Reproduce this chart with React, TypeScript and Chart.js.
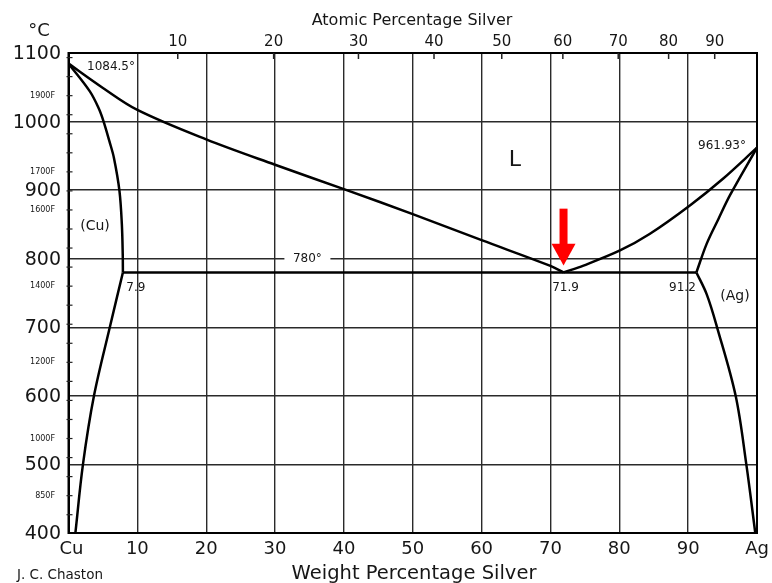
import React, { useEffect, useRef } from "react";
import { Chart, registerables } from "chart.js";

Chart.register(...registerables);

// Axis ticks
const weightTicks = [0, 10, 20, 30, 40, 50, 60, 70, 80, 90, 100];
const weightTickLabels = ["Cu", "10", "20", "30", "40", "50", "60", "70", "80", "90", "Ag"];
const tempTicks = [1100, 1000, 900, 800, 700, 600, 500, 400];
const atomicTicks = [10, 20, 30, 40, 50, 60, 70, 80, 90];
const fahrenheitLabels = [1900, 1700, 1600, 1400, 1200, 1000, 850];
const fahrenheitMinorTicks = [
  800, 850, 900, 950, 1000, 1050, 1100, 1150, 1200, 1250, 1300, 1350, 1400, 1450,
  1500, 1550, 1600, 1650, 1700, 1750, 1800, 1850, 1900, 1950, 2000,
];

// Molar masses used for atomic -> weight percent
const MASS_AG = 107.87;
const MASS_CU = 63.546;

// Curves (weight % Ag, temperature °C)
const cuLiquidusWt = [0, 5, 10, 20, 30, 40.4, 50, 60, 70, 71.9];
const cuLiquidusT = [1084.5, 1049, 1017, 974, 937, 900, 865, 827, 789.5, 780];

const agLiquidusWt = [71.9, 74.8, 80.1, 84.4, 90.3, 95.1, 100];
const agLiquidusT = [780, 790, 812, 836, 878, 917, 961.93];

const cuSolidusWt = [0, 3.1, 4.4, 5.1, 5.95, 6.6, 7.4, 7.75, 7.88, 7.9];
const cuSolidusT = [1084.5, 1044, 1019, 1000, 971, 947, 899, 850, 805, 780];

const cuSolvusWt = [1.0, 2.1, 3.7, 6.0, 7.9];
const cuSolvusT = [400, 500, 600, 700, 780];

const agSolidusWt = [91.2, 92.7, 94.4, 96.1, 100];
const agSolidusT = [780, 822, 858, 893, 961.93];

const agSolvusWt = [91.2, 92.7, 94.2, 96.9, 98.45, 99.75];
const agSolvusT = [780, 748, 700, 600, 500, 400];

const eutecticWt = [7.9, 71.9, 91.2];
const eutecticT = [780, 780, 780];

// Annotations
const eutecticLabel = { text: "780°", wt: 34.7, t: 800 };
const compositionLabels = [
  { text: "7.9", wt: 7.9 },
  { text: "71.9", wt: 71.9 },
  { text: "91.2", wt: 91.2 },
];
const arrowWt = 71.9;
const arrowTipT = 790;
const arrowTailT = 873;
const arrowHeadBaseT = 822;

const toPoints = (xs: number[], ys: number[]) => xs.map((x, i) => ({ x, y: ys[i] }));

const FONT = '"DejaVu Sans", "Liberation Sans", sans-serif';
const INK = "#161616";

const decorPlugin = {
  id: "decor",
  afterDraw(chart: any) {
    const { ctx, chartArea, scales } = chart;
    const xs = scales.x;
    const ys = scales.y;
    const L = chartArea.left, R = chartArea.right, T = chartArea.top, B = chartArea.bottom;
    ctx.save();

    // frame
    ctx.strokeStyle = "#000";
    ctx.lineWidth = 2;
    ctx.strokeRect(L, T, R - L, B - T);

    // Fahrenheit minor ticks (inside left)
    ctx.lineWidth = 1.2;
    ctx.strokeStyle = "#222";
    fahrenheitMinorTicks.forEach((f) => {
      const c = ((f - 32) * 5) / 9;
      if (c < 400 || c > 1100) return;
      const y = ys.getPixelForValue(c);
      ctx.beginPath();
      ctx.moveTo(L - 2, y);
      ctx.lineTo(L + 4, y);
      ctx.stroke();
    });

    // atomic ticks (inside top)
    const atomicToWt = (a: number) => (a * MASS_AG) / (a * MASS_AG + (100 - a) * MASS_CU) * 100;
    ctx.lineWidth = 1.5;
    atomicTicks.forEach((a) => {
      const x = xs.getPixelForValue(atomicToWt(a));
      ctx.beginPath();
      ctx.moveTo(x, T);
      ctx.lineTo(x, T + 6);
      ctx.stroke();
    });

    ctx.fillStyle = INK;
    ctx.textBaseline = "middle";

    // top labels
    ctx.textAlign = "center";
    ctx.font = `15px ${FONT}`;
    atomicTicks.forEach((a) => {
      ctx.fillText(String(a), xs.getPixelForValue(atomicToWt(a)), 42);
    });
    ctx.font = `16px ${FONT}`;
    ctx.fillText("Atomic Percentage Silver", 412, 21);

    // y labels
    ctx.textAlign = "right";
    ctx.font = `19px ${FONT}`;
    tempTicks.forEach((t) => {
      ctx.fillText(String(t), 61, ys.getPixelForValue(t) + 1);
    });
    ctx.textAlign = "center";
    ctx.font = `18px ${FONT}`;
    ctx.fillText("°C", 39, 31);

    ctx.textAlign = "right";
    ctx.font = `8px ${FONT}`;
    fahrenheitLabels.forEach((f) => {
      const c = ((f - 32) * 5) / 9;
      ctx.fillText(`${f}F`, 55, ys.getPixelForValue(c));
    });

    // bottom labels
    ctx.textAlign = "center";
    ctx.font = `18px ${FONT}`;
    weightTicks.forEach((w, i) => {
      let x = xs.getPixelForValue(w);
      if (i === 0) x += 3;
      ctx.fillText(weightTickLabels[i], x, 549);
    });
    ctx.font = `19.5px ${FONT}`;
    ctx.fillText("Weight Percentage Silver", 414, 574);
    ctx.textAlign = "left";
    ctx.font = `13.5px ${FONT}`;
    ctx.fillText("J. C. Chaston", 17, 575);

    // in-plot labels
    ctx.font = `12px ${FONT}`;
    ctx.textAlign = "left";
    ctx.fillText("1084.5°", 87, 67);
    ctx.fillText("961.93°", 698, 146);

    // 780° label on gridline with white background
    const lx = xs.getPixelForValue(eutecticLabel.wt);
    const ly = ys.getPixelForValue(eutecticLabel.t);
    ctx.fillStyle = "#fff";
    ctx.fillRect(lx - 23, ly - 3, 46, 6);
    ctx.fillStyle = INK;
    ctx.textAlign = "center";
    ctx.fillText(eutecticLabel.text, lx, ly);

    compositionLabels.forEach((c) => {
      const x = xs.getPixelForValue(c.wt);
      const y = ys.getPixelForValue(780) + 15;
      let dx = 0;
      if (c.text === "7.9") dx = 13;
      if (c.text === "71.9") dx = 2;
      if (c.text === "91.2") dx = -14;
      ctx.fillText(c.text, x + dx, y);
    });

    ctx.font = `14px ${FONT}`;
    ctx.fillText("(Cu)", 95, 226);
    ctx.fillText("(Ag)", 735, 296);

    ctx.font = `22px ${FONT}`;
    ctx.fillText("L", 515, 160);

    // red arrow
    const ax = xs.getPixelForValue(arrowWt);
    const tipY = ys.getPixelForValue(arrowTipT);
    const tailY = ys.getPixelForValue(arrowTailT);
    const headY = ys.getPixelForValue(arrowHeadBaseT);
    ctx.fillStyle = "#ff0000";
    ctx.fillRect(ax - 4, tailY, 8, headY - tailY + 1);
    ctx.beginPath();
    ctx.moveTo(ax - 12, headY);
    ctx.lineTo(ax + 12, headY);
    ctx.lineTo(ax, tipY);
    ctx.closePath();
    ctx.fill();

    ctx.restore();
  },
};

const lineDs = (xs: number[], ys: number[], tension = 0.35) => ({
  data: toPoints(xs, ys),
  borderColor: "#000",
  borderWidth: 2.5,
  pointRadius: 0,
  showLine: true,
  fill: false,
  tension,
});

export default function App() {
  const ref = useRef<HTMLCanvasElement | null>(null);

  useEffect(() => {
    document.body.style.margin = "0";
    if (!ref.current) return;
    const chart = new Chart(ref.current, {
      type: "line",
      data: {
        datasets: [
          lineDs(cuLiquidusWt, cuLiquidusT),
          lineDs(agLiquidusWt, agLiquidusT),
          lineDs(cuSolidusWt, cuSolidusT),
          lineDs(cuSolvusWt, cuSolvusT),
          lineDs(agSolidusWt, agSolidusT),
          lineDs(agSolvusWt, agSolvusT),
          lineDs(eutecticWt, eutecticT, 0),
        ],
      },
      options: {
        animation: false,
        responsive: false,
        devicePixelRatio: 1,
        layout: { padding: { left: 68.5, top: 53, right: 15, bottom: 50 } },
        plugins: { legend: { display: false }, tooltip: { enabled: false } },
        scales: {
          x: {
            type: "linear",
            min: 0,
            max: 100,
            ticks: { display: false, stepSize: 10 },
            grid: { color: "#2a2a2a", lineWidth: 1.4, drawTicks: false },
            border: { display: true, color: "#000", width: 2 },
          },
          y: {
            type: "linear",
            min: 400,
            max: 1100,
            ticks: { display: false, stepSize: 100 },
            grid: { color: "#2a2a2a", lineWidth: 1.4, drawTicks: false },
            border: { display: true, color: "#000", width: 2 },
          },
        },
      },
      plugins: [decorPlugin],
    });
    return () => chart.destroy();
  }, []);

  return (
    <div style={{ width: 772, height: 583, background: "#fff" }}>
      <canvas ref={ref} width={772} height={583} style={{ display: "block" }} />
    </div>
  );
}
